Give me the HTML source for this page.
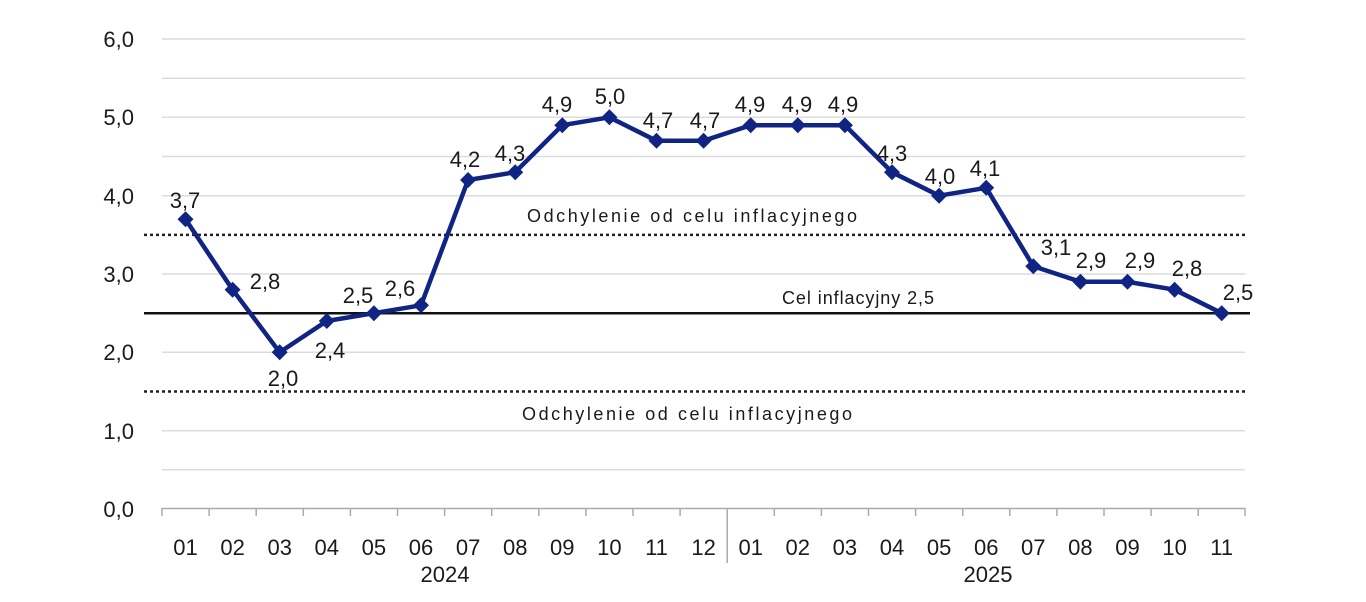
<!DOCTYPE html>
<html><head><meta charset="utf-8"><style>
html,body{margin:0;padding:0;background:#fff;}
svg{display:block;font-family:"Liberation Sans","DejaVu Sans",sans-serif;}
</style></head><body>
<svg width="1366" height="602" viewBox="0 0 1366 602" xmlns="http://www.w3.org/2000/svg">
<g stroke="#dcdcdc" stroke-width="1.5">
<line x1="162" x2="1245" y1="39" y2="39"/>
<line x1="162" x2="1245" y1="78.2" y2="78.2"/>
<line x1="162" x2="1245" y1="117.3" y2="117.3"/>
<line x1="162" x2="1245" y1="156.5" y2="156.5"/>
<line x1="162" x2="1245" y1="195.7" y2="195.7"/>
<line x1="162" x2="1245" y1="274" y2="274"/>
<line x1="162" x2="1245" y1="352.3" y2="352.3"/>
<line x1="162" x2="1245" y1="430.7" y2="430.7"/>
<line x1="162" x2="1245" y1="469.8" y2="469.8"/>
</g>
<line x1="144" x2="1245" y1="234.9" y2="234.9" stroke="#222" stroke-width="2.5" stroke-dasharray="3,3"/>
<line x1="144" x2="1245" y1="391.5" y2="391.5" stroke="#222" stroke-width="2.5" stroke-dasharray="3,3"/>
<line x1="144" x2="1250" y1="313.2" y2="313.2" stroke="#111" stroke-width="2.5"/>
<line x1="162" x2="1245" y1="508.5" y2="508.5" stroke="#aaa" stroke-width="1.5"/>
<g stroke="#aaa" stroke-width="1.5">
<line x1="162" x2="162" y1="508" y2="516"/><line x1="209.1" x2="209.1" y1="508" y2="516"/><line x1="256.2" x2="256.2" y1="508" y2="516"/><line x1="303.3" x2="303.3" y1="508" y2="516"/><line x1="350.4" x2="350.4" y1="508" y2="516"/><line x1="397.5" x2="397.5" y1="508" y2="516"/><line x1="444.6" x2="444.6" y1="508" y2="516"/><line x1="491.7" x2="491.7" y1="508" y2="516"/><line x1="538.8" x2="538.8" y1="508" y2="516"/><line x1="585.9" x2="585.9" y1="508" y2="516"/><line x1="633" x2="633" y1="508" y2="516"/><line x1="680.1" x2="680.1" y1="508" y2="516"/><line x1="727.2" x2="727.2" y1="508" y2="563"/><line x1="774.3" x2="774.3" y1="508" y2="516"/><line x1="821.4" x2="821.4" y1="508" y2="516"/><line x1="868.5" x2="868.5" y1="508" y2="516"/><line x1="915.6" x2="915.6" y1="508" y2="516"/><line x1="962.7" x2="962.7" y1="508" y2="516"/><line x1="1009.8" x2="1009.8" y1="508" y2="516"/><line x1="1056.9" x2="1056.9" y1="508" y2="516"/><line x1="1104" x2="1104" y1="508" y2="516"/><line x1="1151.1" x2="1151.1" y1="508" y2="516"/><line x1="1198.2" x2="1198.2" y1="508" y2="516"/><line x1="1245" x2="1245" y1="508" y2="516"/>
</g>
<g font-size="22" fill="#1a1a1a" text-anchor="end">
<text x="134" y="47">6,0</text><text x="134" y="125">5,0</text><text x="134" y="204">4,0</text><text x="134" y="282">3,0</text><text x="134" y="360">2,0</text><text x="134" y="439">1,0</text><text x="134" y="517">0,0</text>
</g>
<g font-size="22" fill="#1a1a1a" text-anchor="middle">
<text x="185.5" y="555">01</text><text x="232.6" y="555">02</text><text x="279.7" y="555">03</text><text x="326.8" y="555">04</text><text x="373.9" y="555">05</text><text x="421" y="555">06</text><text x="468.1" y="555">07</text><text x="515.2" y="555">08</text><text x="562.3" y="555">09</text><text x="609.4" y="555">10</text><text x="656.5" y="555">11</text><text x="703.6" y="555">12</text><text x="750.7" y="555">01</text><text x="797.8" y="555">02</text><text x="844.9" y="555">03</text><text x="892" y="555">04</text><text x="939.1" y="555">05</text><text x="986.2" y="555">06</text><text x="1033.3" y="555">07</text><text x="1080.4" y="555">08</text><text x="1127.5" y="555">09</text><text x="1174.6" y="555">10</text><text x="1221.7" y="555">11</text>
<text x="445" y="582">2024</text><text x="988" y="582">2025</text>
</g>
<g font-size="18" fill="#1a1a1a">
<text x="527" y="222" textLength="330" lengthAdjust="spacing">Odchylenie od celu inflacyjnego</text>
<text x="782" y="304" textLength="152" lengthAdjust="spacing">Cel inflacyjny 2,5</text>
<text x="522" y="420" textLength="330" lengthAdjust="spacing">Odchylenie od celu inflacyjnego</text>
</g>
<polyline fill="none" stroke="#0f2483" stroke-width="4.5" stroke-linejoin="round" points="185.5,219.2 232.6,289.7 279.7,352.3 326.8,321 373.9,313.2 421,305.3 468.1,180 515.2,172.2 562.3,125.2 609.4,117.3 656.5,140.8 703.6,140.8 750.7,125.2 797.8,125.2 844.9,125.2 892,172.2 939.1,195.7 986.2,187.8 1033.3,266.2 1080.4,281.8 1127.5,281.8 1174.6,289.7 1221.7,313.2"/>
<g fill="#0f2483">
<path d="M185.5 211.2l8 8-8 8-8-8z"/><path d="M232.6 281.7l8 8-8 8-8-8z"/><path d="M279.7 344.3l8 8-8 8-8-8z"/><path d="M326.8 313l8 8-8 8-8-8z"/><path d="M373.9 305.2l8 8-8 8-8-8z"/><path d="M421 297.3l8 8-8 8-8-8z"/><path d="M468.1 172l8 8-8 8-8-8z"/><path d="M515.2 164.2l8 8-8 8-8-8z"/><path d="M562.3 117.2l8 8-8 8-8-8z"/><path d="M609.4 109.3l8 8-8 8-8-8z"/><path d="M656.5 132.8l8 8-8 8-8-8z"/><path d="M703.6 132.8l8 8-8 8-8-8z"/><path d="M750.7 117.2l8 8-8 8-8-8z"/><path d="M797.8 117.2l8 8-8 8-8-8z"/><path d="M844.9 117.2l8 8-8 8-8-8z"/><path d="M892 164.2l8 8-8 8-8-8z"/><path d="M939.1 187.7l8 8-8 8-8-8z"/><path d="M986.2 179.8l8 8-8 8-8-8z"/><path d="M1033.3 258.2l8 8-8 8-8-8z"/><path d="M1080.4 273.8l8 8-8 8-8-8z"/><path d="M1127.5 273.8l8 8-8 8-8-8z"/><path d="M1174.6 281.7l8 8-8 8-8-8z"/><path d="M1221.7 305.2l8 8-8 8-8-8z"/>
</g>
<g font-size="22" fill="#1a1a1a" text-anchor="middle">
<text x="185" y="208">3,7</text>
<text x="265" y="289">2,8</text>
<text x="283" y="386">2,0</text>
<text x="330" y="358">2,4</text>
<text x="358" y="303">2,5</text>
<text x="400" y="296">2,6</text>
<text x="465" y="167">4,2</text>
<text x="510" y="161">4,3</text>
<text x="557" y="112">4,9</text>
<text x="610" y="104">5,0</text>
<text x="658" y="128">4,7</text>
<text x="705" y="128">4,7</text>
<text x="750" y="112">4,9</text>
<text x="797" y="112">4,9</text>
<text x="843" y="112">4,9</text>
<text x="892" y="161">4,3</text>
<text x="940" y="184">4,0</text>
<text x="985" y="176">4,1</text>
<text x="1056" y="255">3,1</text>
<text x="1091" y="268">2,9</text>
<text x="1140" y="268">2,9</text>
<text x="1187" y="276">2,8</text>
<text x="1238" y="300">2,5</text>
</g>
</svg>
</body></html>
